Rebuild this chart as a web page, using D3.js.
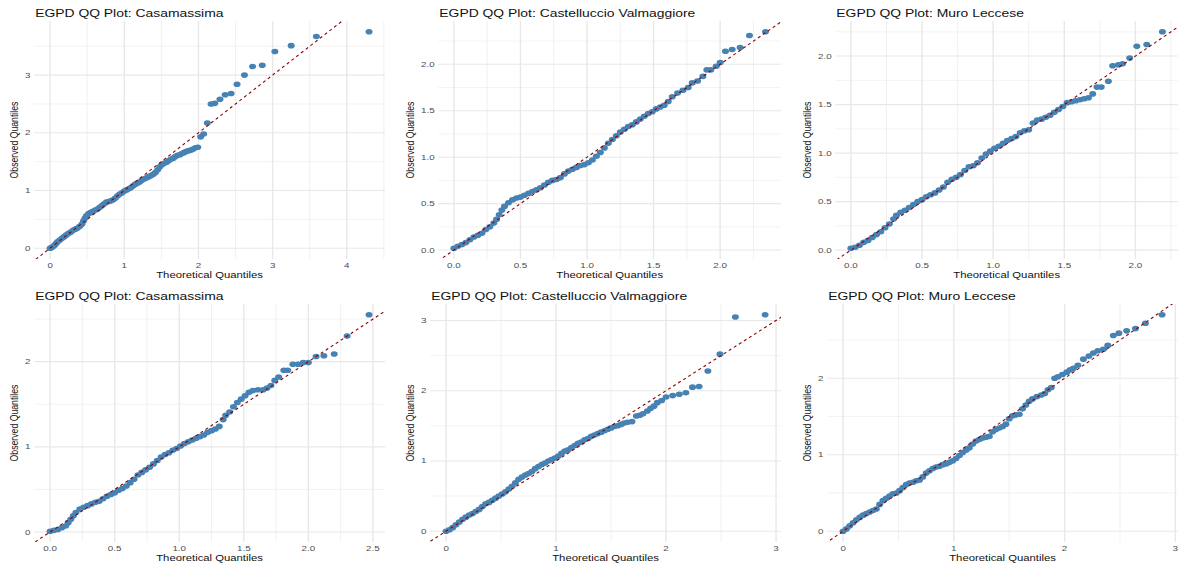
<!DOCTYPE html>
<html>
<head>
<meta charset="utf-8">
<script src="https://cdn.jsdelivr.net/npm/d3@7"></script>
<style>
  body { margin: 0; background: #fff; }
  svg { display: block; }
  text { font-family: "Liberation Sans", Arial, Helvetica, sans-serif; }
</style>
</head>
<body>
<svg id="chart"></svg>
<script>
const titles = [
  'EGPD QQ Plot: Casamassima',
  'EGPD QQ Plot: Castelluccio Valmaggiore',
  'EGPD QQ Plot: Muro Leccese',
  'EGPD QQ Plot: Casamassima',
  'EGPD QQ Plot: Castelluccio Valmaggiore',
  'EGPD QQ Plot: Muro Leccese'
]

// theoretical / observed quantiles, one pair of arrays per panel
const casTopTheo = [0.00,0.02,0.04,0.06,0.08,0.10,0.13,0.16,0.19,0.22,0.25,0.28,0.31,0.34,0.37,0.40,0.43,0.45,0.47,0.49,0.52,0.55,0.58,0.61,0.64,0.67,0.70,0.73,0.76,0.79,0.82,0.85,0.88,0.91,0.94,0.97,1.00,1.03,1.06,1.09,1.12,1.15,1.18,1.21,1.24,1.27,1.30,1.33,1.36,1.39,1.42,1.45,1.48,1.51,1.54,1.57,1.60,1.63,1.66,1.69,1.72,1.75,1.78,1.81,1.84,1.87,1.90,1.93,1.96,1.99,2.03,2.07,2.12,2.17,2.22,2.29,2.36,2.44,2.52,2.62,2.73,2.86,3.03,3.25,3.59,4.30]
const casTopObs  = [0.00,0.01,0.03,0.05,0.08,0.11,0.14,0.17,0.20,0.23,0.26,0.28,0.31,0.33,0.35,0.38,0.42,0.47,0.52,0.56,0.60,0.62,0.64,0.66,0.68,0.71,0.74,0.77,0.80,0.81,0.82,0.84,0.87,0.91,0.94,0.96,0.99,1.01,1.03,1.05,1.08,1.11,1.13,1.15,1.18,1.20,1.22,1.24,1.26,1.28,1.31,1.36,1.41,1.45,1.47,1.49,1.52,1.54,1.56,1.59,1.61,1.62,1.64,1.66,1.68,1.69,1.70,1.72,1.74,1.75,1.93,1.98,2.17,2.50,2.51,2.58,2.66,2.68,2.84,3.00,3.15,3.17,3.41,3.51,3.67,3.75]

const casValTopTheo = [0.00,0.03,0.06,0.09,0.12,0.15,0.18,0.21,0.24,0.27,0.30,0.32,0.34,0.36,0.38,0.41,0.44,0.47,0.50,0.53,0.56,0.59,0.62,0.65,0.68,0.71,0.74,0.77,0.80,0.83,0.86,0.89,0.92,0.95,0.98,1.01,1.04,1.07,1.10,1.13,1.16,1.19,1.22,1.25,1.28,1.31,1.34,1.37,1.40,1.43,1.46,1.49,1.52,1.55,1.58,1.61,1.64,1.68,1.72,1.76,1.79,1.83,1.87,1.90,1.93,1.97,2.00,2.04,2.09,2.15,2.22,2.34]
const casValTopObs  = [0.02,0.04,0.06,0.08,0.11,0.14,0.16,0.18,0.22,0.25,0.29,0.33,0.38,0.43,0.47,0.51,0.54,0.56,0.57,0.59,0.61,0.63,0.65,0.67,0.70,0.73,0.75,0.76,0.78,0.82,0.85,0.87,0.89,0.91,0.92,0.94,0.97,1.01,1.05,1.10,1.15,1.19,1.23,1.27,1.30,1.33,1.35,1.38,1.41,1.44,1.47,1.49,1.52,1.54,1.56,1.60,1.65,1.69,1.72,1.75,1.80,1.82,1.87,1.94,1.94,1.98,2.02,2.14,2.16,2.18,2.31,2.35]

const muroTopTheo = [0.00,0.03,0.06,0.09,0.12,0.15,0.18,0.21,0.24,0.27,0.30,0.32,0.35,0.38,0.41,0.44,0.47,0.50,0.53,0.56,0.59,0.62,0.65,0.68,0.71,0.74,0.77,0.80,0.83,0.86,0.89,0.92,0.95,0.98,1.01,1.04,1.07,1.10,1.13,1.16,1.19,1.22,1.25,1.28,1.31,1.34,1.37,1.40,1.43,1.46,1.49,1.52,1.55,1.58,1.61,1.64,1.67,1.70,1.73,1.76,1.81,1.84,1.88,1.91,1.96,2.01,2.08,2.19]
const muroTopObs  = [0.02,0.03,0.05,0.08,0.10,0.13,0.16,0.19,0.23,0.27,0.32,0.36,0.39,0.41,0.44,0.47,0.50,0.52,0.55,0.57,0.59,0.62,0.65,0.70,0.73,0.75,0.78,0.82,0.86,0.87,0.90,0.95,0.99,1.02,1.05,1.07,1.10,1.13,1.15,1.17,1.21,1.23,1.24,1.31,1.34,1.35,1.37,1.39,1.42,1.45,1.48,1.52,1.53,1.54,1.55,1.56,1.57,1.61,1.68,1.68,1.74,1.90,1.91,1.92,1.98,2.10,2.12,2.25]

const casBotTheo = [0.00,0.03,0.06,0.09,0.12,0.14,0.16,0.18,0.20,0.23,0.26,0.29,0.32,0.35,0.38,0.41,0.44,0.47,0.50,0.53,0.56,0.59,0.62,0.65,0.68,0.71,0.74,0.77,0.80,0.83,0.86,0.89,0.92,0.95,0.98,1.01,1.04,1.07,1.10,1.13,1.16,1.19,1.22,1.25,1.28,1.31,1.34,1.36,1.39,1.42,1.45,1.48,1.51,1.54,1.57,1.61,1.65,1.68,1.71,1.74,1.77,1.81,1.84,1.88,1.92,1.96,2.00,2.06,2.12,2.20,2.30,2.47]
const casBotObs  = [0.01,0.02,0.03,0.05,0.07,0.11,0.15,0.19,0.23,0.27,0.29,0.31,0.33,0.35,0.36,0.39,0.42,0.44,0.46,0.49,0.51,0.54,0.58,0.62,0.67,0.70,0.73,0.76,0.80,0.84,0.88,0.91,0.93,0.96,0.98,1.01,1.04,1.06,1.08,1.10,1.12,1.14,1.17,1.19,1.21,1.24,1.32,1.37,1.41,1.47,1.52,1.56,1.60,1.64,1.66,1.67,1.67,1.69,1.72,1.78,1.82,1.90,1.90,1.97,1.97,1.99,1.99,2.06,2.07,2.09,2.30,2.55]

const casValBotTheo = [0.00,0.03,0.06,0.09,0.12,0.15,0.18,0.21,0.24,0.27,0.30,0.33,0.36,0.39,0.42,0.45,0.48,0.51,0.54,0.57,0.60,0.63,0.66,0.69,0.72,0.75,0.78,0.81,0.84,0.87,0.90,0.93,0.96,0.99,1.02,1.05,1.08,1.11,1.14,1.17,1.20,1.23,1.26,1.29,1.32,1.35,1.38,1.41,1.44,1.47,1.50,1.53,1.56,1.59,1.62,1.65,1.69,1.73,1.76,1.79,1.83,1.86,1.89,1.92,1.96,2.00,2.06,2.12,2.18,2.24,2.30,2.38,2.49,2.63,2.90]
const casValBotObs  = [0.00,0.02,0.05,0.09,0.13,0.17,0.20,0.23,0.25,0.28,0.31,0.35,0.39,0.41,0.44,0.47,0.50,0.53,0.56,0.60,0.64,0.69,0.74,0.77,0.80,0.82,0.85,0.89,0.92,0.95,0.97,1.00,1.02,1.04,1.07,1.11,1.14,1.16,1.19,1.22,1.25,1.27,1.30,1.32,1.35,1.37,1.39,1.41,1.43,1.45,1.47,1.49,1.50,1.52,1.54,1.55,1.56,1.64,1.65,1.67,1.71,1.75,1.78,1.83,1.86,1.91,1.93,1.95,1.97,2.05,2.06,2.28,2.52,3.05,3.08]

const muroBotTheo = [0.00,0.03,0.06,0.09,0.12,0.15,0.18,0.21,0.24,0.27,0.30,0.33,0.36,0.39,0.42,0.45,0.48,0.51,0.54,0.57,0.60,0.63,0.66,0.69,0.72,0.75,0.78,0.81,0.84,0.87,0.90,0.93,0.96,0.99,1.02,1.05,1.08,1.11,1.14,1.17,1.20,1.23,1.26,1.29,1.32,1.35,1.38,1.41,1.44,1.47,1.50,1.53,1.56,1.59,1.62,1.65,1.68,1.71,1.75,1.79,1.82,1.85,1.88,1.91,1.94,1.98,2.02,2.05,2.08,2.12,2.17,2.22,2.26,2.30,2.35,2.39,2.44,2.49,2.56,2.64,2.73,2.88]
const muroBotObs  = [0.00,0.03,0.07,0.11,0.15,0.18,0.21,0.23,0.25,0.27,0.29,0.35,0.40,0.43,0.46,0.49,0.50,0.53,0.57,0.61,0.63,0.64,0.66,0.67,0.71,0.76,0.79,0.82,0.84,0.85,0.87,0.88,0.90,0.92,0.95,0.99,1.03,1.06,1.09,1.14,1.18,1.20,1.22,1.23,1.24,1.30,1.33,1.35,1.37,1.40,1.47,1.51,1.52,1.53,1.60,1.65,1.70,1.73,1.76,1.78,1.80,1.85,1.88,2.00,2.02,2.05,2.08,2.11,2.13,2.17,2.25,2.29,2.33,2.36,2.38,2.43,2.56,2.59,2.62,2.65,2.72,2.83]

// tick labels per panel
const xTicks = [
  [0, 1, 2, 3, 4],
  [0, 0.5, 1, 1.5, 2],
  [0, 0.5, 1, 1.5, 2],
  [0, 0.5, 1, 1.5, 2, 2.5],
  [0, 1, 2, 3],
  [0, 1, 2, 3]
]
const yTicks = [
  [0, 1, 2, 3],
  [0, 0.5, 1, 1.5, 2],
  [0, 0.5, 1, 1.5, 2],
  [0, 1, 2],
  [0, 1, 2, 3],
  [0, 1, 2]
]
const xDecimals = [0, 1, 1, 1, 0, 0]
const yDecimals = [0, 1, 1, 0, 0, 0]

const theoSeries = [casTopTheo, casValTopTheo, muroTopTheo, casBotTheo, casValBotTheo, muroBotTheo]
const obsSeries = [casTopObs, casValTopObs, muroTopObs, casBotObs, casValBotObs, muroBotObs]

const W = 1184, H = 568
const stretch = 1.3      // the picture is widened horizontally
const tickStretch = 1.42
const tickSize = 6.9
const cellX = [0, 396, 793]
const cellY = [0, 283]
const cellW = 395

const svg = d3.select('svg#chart').attr('width', W).attr('height', H)
const defs = svg.append('defs')

// measure tick label width
const probe = svg.append('text').attr('font-size', tickSize).attr('visibility', 'hidden')
const textWidth = s => { probe.text(s); return probe.node().getComputedTextLength() * tickStretch }

const stretchedText = (parent, x, y, str, size, anchor, fill, sx, rotate) => {
  const g = parent.append('g')
    .attr('transform', `translate(${x},${y}) scale(${sx},1)` + (rotate ? ' rotate(-90)' : ''))
  g.append('text')
    .attr('font-size', size)
    .attr('text-anchor', anchor)
    .attr('fill', fill)
    .text(str)
}

function minorBreaks(ticks, domain) {
  const step = ticks[1] - ticks[0]
  const out = []
  for (let v = ticks[0] - step / 2; v <= domain[1]; v += step) {
    if (v >= domain[0]) out.push(v)
  }
  return out
}

titles.forEach((title, i) => {
  const cx = cellX[i % 3]
  const cy = cellY[Math.floor(i / 3)]
  const theo = theoSeries[i]
  const obs = obsSeries[i]
  const xf = d3.format(`.${xDecimals[i]}f`)
  const yf = d3.format(`.${yDecimals[i]}f`)

  const maxLab = d3.max(yTicks[i], v => textWidth(yf(v)))
  const left = cx + 25 + maxLab + 3.7
  const right = cx + cellW - 10
  const top = cy + 21
  const bottom = cy + 259

  // ggplot style 5% expansion
  const xe = d3.extent(theo), ye = d3.extent(obs)
  const xp = (xe[1] - xe[0]) * 0.05, yp = (ye[1] - ye[0]) * 0.05
  const xDom = [xe[0] - xp, xe[1] + xp]
  const yDom = [ye[0] - yp, ye[1] + yp]

  const x = d3.scaleLinear().domain(xDom).range([left, right])
  const y = d3.scaleLinear().domain(yDom).range([bottom, top])

  const g = svg.append('g')

  // grid
  g.selectAll('.xminor').data(minorBreaks(xTicks[i], xDom)).join('line')
    .attr('x1', d => x(d)).attr('x2', d => x(d)).attr('y1', top).attr('y2', bottom)
    .attr('stroke', '#ebebeb').attr('stroke-width', 0.7)
  g.selectAll('.yminor').data(minorBreaks(yTicks[i], yDom)).join('line')
    .attr('y1', d => y(d)).attr('y2', d => y(d)).attr('x1', left).attr('x2', right)
    .attr('stroke', '#ebebeb').attr('stroke-width', 0.6)
  g.selectAll('.xmajor').data(xTicks[i]).join('line')
    .attr('x1', d => x(d)).attr('x2', d => x(d)).attr('y1', top).attr('y2', bottom)
    .attr('stroke', '#e8e8e8').attr('stroke-width', 1.4)
  g.selectAll('.ymajor').data(yTicks[i]).join('line')
    .attr('y1', d => y(d)).attr('y2', d => y(d)).attr('x1', left).attr('x2', right)
    .attr('stroke', '#e8e8e8').attr('stroke-width', 1.1)

  defs.append('clipPath').attr('id', 'clip' + i)
    .append('rect').attr('x', left).attr('y', top).attr('width', right - left).attr('height', bottom - top)

  const plot = g.append('g').attr('clip-path', `url(#clip${i})`)

  plot.selectAll('ellipse').data(theo.map((t, k) => [t, obs[k]])).join('ellipse')
    .attr('cx', d => x(d[0]))
    .attr('cy', d => y(d[1]))
    .attr('rx', 3.5)
    .attr('ry', 2.8)
    .attr('fill', 'steelblue')

  // reference line y = x
  const lo = Math.min(xDom[0], yDom[0]) - 1, hi = Math.max(xDom[1], yDom[1]) + 1
  plot.append('line')
    .attr('x1', x(lo)).attr('y1', y(lo))
    .attr('x2', x(hi)).attr('y2', y(hi))
    .attr('stroke', '#8b0000')
    .attr('stroke-width', 1.1)
    .attr('stroke-dasharray', '3,3')

  // tick labels
  xTicks[i].forEach(v => stretchedText(g, x(v), cy + 268, xf(v), tickSize, 'middle', '#4d4d4d', tickStretch))
  yTicks[i].forEach(v => stretchedText(g, left - 3.7, y(v) + 2.5, yf(v), tickSize, 'end', '#4d4d4d', tickStretch))

  // titles
  stretchedText(g, left + 1, cy + 16.5, title, 10.7, 'start', '#111', stretch)
  stretchedText(g, (left + right) / 2, cy + 278, 'Theoretical Quantiles', 8.7, 'middle', '#111', stretch)
  stretchedText(g, cx + 18, (top + bottom) / 2, 'Observed Quantiles', 8.7, 'middle', '#111', stretch, true)
})

probe.remove()
</script>
</body>
</html>
